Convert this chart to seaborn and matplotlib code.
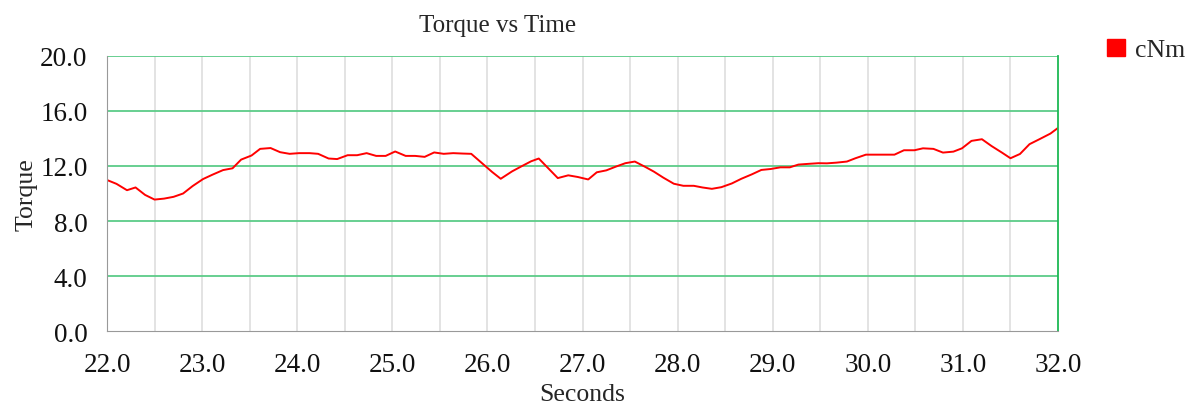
import matplotlib
matplotlib.use('Agg')
import matplotlib.pyplot as plt
from matplotlib.patches import Patch
from matplotlib.ticker import MultipleLocator
import seaborn as sns
import pandas as pd

# ===============================
# DADOS
# ===============================
tempo = [
    22.00, 22.10, 22.21, 22.30, 22.40, 22.50, 22.60, 22.70, 22.80, 22.90,
    23.01, 23.11, 23.22, 23.32, 23.41, 23.52, 23.61, 23.72, 23.82, 23.92,
    24.02, 24.13, 24.22, 24.33, 24.42, 24.53,
    24.63, 24.73, 24.83, 24.93, 25.03, 25.14, 25.24, 25.34, 25.44, 25.54,
    25.64, 25.74, 25.83, 25.94, 26.05, 26.14, 26.26, 26.36, 26.46, 26.54,
    26.64, 26.74, 26.85, 26.95, 27.06,
    27.15, 27.25, 27.35, 27.45, 27.55, 27.66, 27.75, 27.85, 27.96, 28.06,
    28.17, 28.26, 28.36, 28.46, 28.57, 28.67, 28.78, 28.88, 28.98, 29.08,
    29.18, 29.27, 29.37, 29.48,
    29.57, 29.67, 29.78, 29.87, 29.98, 30.08, 30.18, 30.28, 30.38, 30.49,
    30.58, 30.69, 30.79, 30.90, 30.99, 31.09, 31.20, 31.30, 31.41, 31.50,
    31.60, 31.70, 31.81, 31.92, 32.00,
]
torque = [
    10.98, 10.70, 10.24, 10.44, 9.90, 9.56, 9.63, 9.76, 10.00, 10.54,
    11.05, 11.37, 11.70, 11.83, 12.46, 12.76, 13.24, 13.30, 13.00, 12.88,
    12.93, 12.93, 12.88, 12.54, 12.50, 12.78,
    12.78, 12.93, 12.73, 12.73, 13.05, 12.73, 12.73, 12.66, 12.98, 12.88,
    12.93, 12.90, 12.88, 12.22, 11.56, 11.07, 11.61, 11.98, 12.34, 12.54,
    11.83, 11.12, 11.32, 11.20, 11.02,
    11.54, 11.68, 11.95, 12.20, 12.32, 11.93, 11.59, 11.15, 10.71, 10.56,
    10.56, 10.44, 10.34, 10.46, 10.73, 11.07, 11.39, 11.71, 11.78, 11.90,
    11.90, 12.10, 12.15, 12.20,
    12.19, 12.24, 12.32, 12.56, 12.82, 12.82, 12.82, 12.82, 13.14, 13.14,
    13.28, 13.24, 12.97, 13.04, 13.28, 13.82, 13.94, 13.45, 12.97, 12.56,
    12.87, 13.58, 13.96, 14.35, 14.76,
]

df = pd.DataFrame({'Seconds': tempo, 'Torque': torque})

# ===============================
# ESTILO
# ===============================
sns.set_style('white')
plt.rcParams['font.family'] = ['Liberation Serif', 'DejaVu Serif']
plt.rcParams['font.size'] = 18

verde = '#5ccb88'
cinza = '#999999'

# ===============================
# GRÁFICO DE LINHA
# ===============================
fig = plt.figure(figsize=(11.97, 4.06), dpi=100)
ax = fig.add_axes([0.0894, 0.1815, 0.7945, 0.6788])

sns.lineplot(data=df, x='Seconds', y='Torque', color='#ff0000', linewidth=1.4,
             sort=False, estimator=None, ax=ax)

ax.set_xlim(22, 32)
ax.set_ylim(0, 20)

ax.xaxis.set_major_locator(MultipleLocator(1.0))
ax.xaxis.set_minor_locator(MultipleLocator(0.25))
ax.yaxis.set_major_locator(MultipleLocator(4.0))
ax.yaxis.set_minor_locator(MultipleLocator(0.8))
ax.xaxis.set_major_formatter(plt.FormatStrFormatter('%.1f'))
ax.yaxis.set_major_formatter(plt.FormatStrFormatter('%.1f'))

# grades: verticais cinza a cada 0.5, horizontais verdes a cada 4
for xv in [22.5 + 0.5 * i for i in range(19)]:
    ax.axvline(xv, color='#dedede', linewidth=1.2, zorder=0)
for yv in [4, 8, 12, 16, 20]:
    ax.axhline(yv, color=verde, linewidth=1.3, zorder=1)

ax.tick_params(axis='both', which='both', direction='out', color=cinza,
               width=1, labelcolor='#111111', labelsize=19.5)
ax.tick_params(axis='both', which='major', length=6)
ax.tick_params(axis='both', which='minor', length=5)
ax.tick_params(axis='x', which='major', pad=9)
ax.tick_params(axis='y', which='major', pad=8)

ax.spines['left'].set_color(cinza)
ax.spines['bottom'].set_color(cinza)
ax.spines['top'].set_visible(False)
ax.spines['right'].set_color('#1db954')
ax.spines['right'].set_linewidth(1.3)

ax.set_xlabel('Seconds', fontsize=18.5, labelpad=4)
ax.set_ylabel('Torque', fontsize=18.5, labelpad=2)
fig.text(498 / 1197, 1 - 26 / 406, 'Torque vs Time', ha='center', va='center',
         fontsize=18)

fig.legend(handles=[Patch(facecolor='#ff0000', edgecolor='#ff0000', label='cNm')],
           loc='center left', bbox_to_anchor=(1107 / 1197, 1 - 51 / 406),
           frameon=False, borderpad=0, borderaxespad=0,
           handlelength=0.7, handleheight=0.7,
           handletextpad=0.4, fontsize=18.5)

plt.savefig('out.png', dpi=100)
